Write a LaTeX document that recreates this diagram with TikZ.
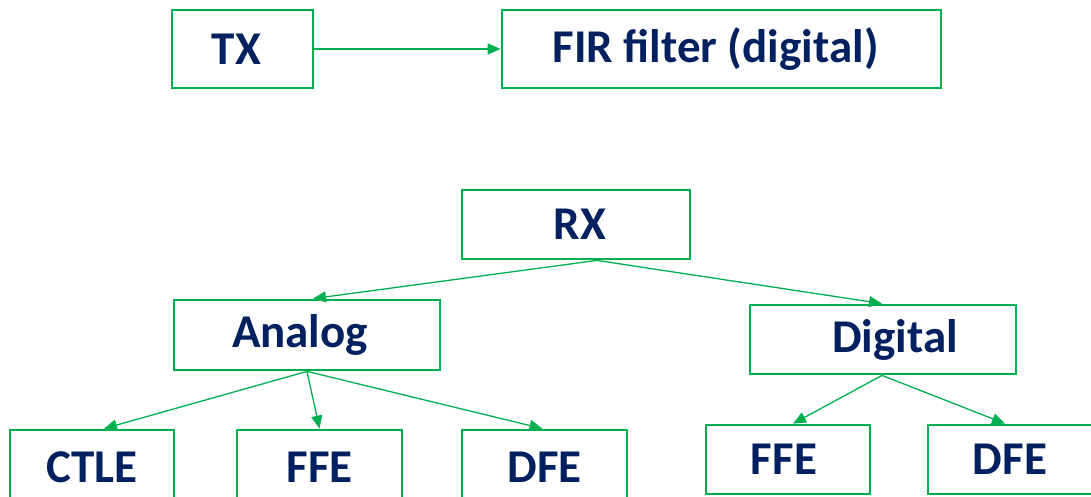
\documentclass[tikz,border=0pt]{standalone}
\usepackage{fontspec}
\setmainfont{Carlito}
\usetikzlibrary{arrows.meta}
\definecolor{grn}{HTML}{00B050}
\definecolor{navy}{HTML}{002060}
\begin{document}
\begin{tikzpicture}[x=1pt,y=-1pt,
  box/.style={draw=grn,line width=2.8pt,inner sep=0pt,text=navy,
    font=\fontsize{47}{52}\selectfont\bfseries},
  conn/.style={draw=grn,line width=1.3pt,-{Triangle[length=13pt,width=11pt]}}]
\clip (0,0) rectangle (1091,497);
\node[box,minimum width=141pt,minimum height=78pt] (tx) at (242.5,49) {\hspace*{-12pt}TX};
\node[box,minimum width=439pt,minimum height=78pt] (fir) at (721.5,49) {\hspace*{-12pt}FIR filter (digital)};
\node[box,minimum width=228pt,minimum height=69pt] (rx) at (576,224.5) {\hspace*{8pt}RX};
\node[box,minimum width=266pt,minimum height=70pt] (an) at (307,335) {\hspace*{-14pt}Analog};
\node[box,minimum width=266pt,minimum height=69pt] (dg) at (883,339.5) {\hspace*{24pt}Digital};
\node[box,minimum width=164pt,minimum height=74pt] (ctle) at (92,467) {CTLE};
\node[box,minimum width=165pt,minimum height=74pt] (affe) at (319.5,467) {FFE};
\node[box,minimum width=165pt,minimum height=74pt] (adfe) at (544.5,467) {DFE};
\node[box,minimum width=164pt,minimum height=69pt] (dffe) at (788,459.5) {\hspace*{-8pt}FFE};
\node[box,minimum width=164pt,minimum height=69pt] (ddfe) at (1010,459.5) {DFE};
\draw[conn] (tx.east) -- (fir.west);
\draw[conn] ([xshift=21pt]rx.south) -- ([xshift=6pt]an.north);
\draw[conn] ([xshift=21pt]rx.south) -- ([xshift=-1pt]dg.north);
\draw[conn] (an.south) -- ([xshift=12pt]ctle.north);
\draw[conn] (an.south) -- (affe.north);
\draw[conn] (an.south) -- ([xshift=-2pt]adfe.north);
\draw[conn] ([xshift=-1pt]dg.south) -- ([xshift=5pt]dffe.north);
\draw[conn] ([xshift=-1pt]dg.south) -- ([xshift=-5pt]ddfe.north);
\end{tikzpicture}
\end{document}
